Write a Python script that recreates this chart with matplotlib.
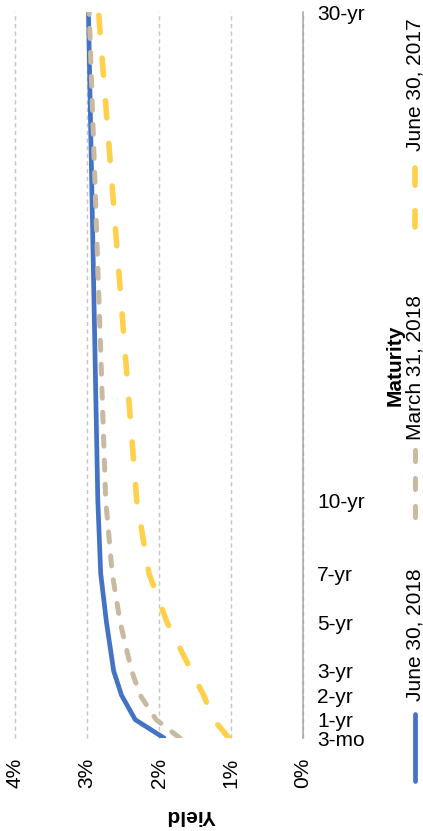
import matplotlib
matplotlib.use("Agg")
from matplotlib import pyplot as plt
from matplotlib.lines import Line2D

plt.rcParams['font.family'] = ['Liberation Sans', 'DejaVu Sans']

# treasury curve: maturity in years vs yield in percent
maturity_labels = ["3-mo", "1-yr", "2-yr", "3-yr", "5-yr", "7-yr", "10-yr", "30-yr"]
maturity_years = [0.25, 1, 2, 3, 5, 7, 10, 30]
yield_jun_2018 = [1.93, 2.33, 2.52, 2.63, 2.73, 2.81, 2.85, 2.98]
yield_mar_2018 = [1.71, 2.04, 2.26, 2.38, 2.54, 2.65, 2.74, 2.97]
yield_jun_2017 = [1.03, 1.24, 1.38, 1.55, 1.89, 2.14, 2.31, 2.84]
series_names = ["June 30, 2018", "March 31, 2018", "June 30, 2017"]

yield_ticks = [0, 1, 2, 3, 4]
yield_ticklabels = ["0%", "1%", "2%", "3%", "4%"]

W, H = 423, 831
fig = plt.figure(figsize=(W / 100, H / 100), dpi=100)


def fx(px):
    return px / W


def fy(py):
    return 1 - py / H


ax = fig.add_axes([fx(15), fy(738), fx(303) - fx(15), fy(12) - fy(738)])

blue = "#4472C4"
tan = "#C9B9A0"
yellow = "#FFD04C"

styles = [
    dict(color=blue, lw=3.4, solid_capstyle="round"),
    dict(color=tan, lw=3.6, linestyle=(0, (2.0, 2.8)), dash_capstyle="round"),
    dict(color=yellow, lw=4.0, linestyle=(0, (3.1, 4.6)), dash_capstyle="round"),
]

for vals, st in zip([yield_jun_2018, yield_mar_2018, yield_jun_2017], styles):
    ax.plot(vals, maturity_years, **st)

ax.set_xlim(4, 0)
ax.set_ylim(0.25, 30)

ax.set_xticks(yield_ticks)
ax.set_xticklabels(yield_ticklabels, fontsize=15)
ax.tick_params(axis="x", length=0, pad=14, labelrotation=90)

ax.yaxis.tick_right()
ax.set_yticks(maturity_years)
ax.set_yticklabels(maturity_labels, fontsize=15)
ax.tick_params(axis="y", length=0, pad=10)

ax.grid(axis="x", color="#c4c4c4", lw=1.0, linestyle=(0, (3, 2.5)))
ax.grid(axis="y", visible=False)
for gl in ax.get_xgridlines():
    gl.set_clip_on(False)
ax.set_axisbelow(True)

for side in ["top", "left", "bottom"]:
    ax.spines[side].set_visible(False)
ax.spines["right"].set_color("#a6a6a6")
ax.spines["right"].set_linewidth(1.1)

# axis titles, turned with the chart
fig.text(fx(191), fy(816), "Yield", rotation=180, fontsize=15, fontweight="bold",
         ha="center", va="center")
fig.text(fx(395), fy(365), "Maturity", rotation=90, fontsize=15, fontweight="bold",
         ha="center", va="center")

# vertical legend down the right edge; the tan key gets longer dashes
legend_styles = [
    styles[0],
    dict(styles[1], linestyle=(0, (2.2, 3.4))),
    styles[2],
]
legend_items = [
    (series_names[0], 635, (714, 781), legend_styles[0]),
    (series_names[1], 368, (449.5, 516.5), legend_styles[1]),
    (series_names[2], 85, (167.5, 227), legend_styles[2]),
]
for name, text_y, (y0, y1), st in legend_items:
    fig.add_artist(Line2D([fx(415), fx(415)], [fy(y0), fy(y1)],
                          transform=fig.transFigure, **st))
    fig.text(fx(415), fy(text_y), name, rotation=90, fontsize=15,
             ha="center", va="center")

fig.savefig("out.png", dpi=100)
